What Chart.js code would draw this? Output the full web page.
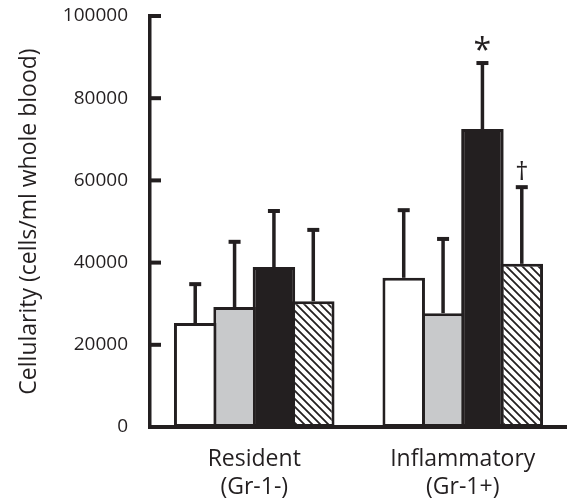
<!DOCTYPE html>
<html>
<head>
<meta charset="utf-8">
<script src="https://cdn.jsdelivr.net/npm/chart.js@4/dist/chart.umd.min.js"></script>
<style>
  html, body { margin: 0; padding: 0; background: #fff; }
  #wrap { width: 567px; height: 504px; position: relative; }
</style>
</head>
<body>
<div id="wrap"><canvas id="chart"></canvas></div>
<script>
const categories = [['Resident', '(Gr-1-)'], ['Inflammatory', '(Gr-1+)']];
const yTicks = [0, 20000, 40000, 60000, 80000, 100000];

// means and upward error (SD) per group
const whiteMeans = [25300, 36300];
const whiteErr = [9700, 16700];
const grayMeans = [29200, 27700];
const grayErr = [16100, 18300];
const blackMeans = [38900, 72500];
const blackErr = [13900, 16300];
const hatchMeans = [30600, 39700];
const hatchErr = [17600, 18900];

// significance marks: dataset index, category index, symbol
const marks = [
  { ds: 2, idx: 1, text: '*' },
  { ds: 3, idx: 1, text: '\u2020' }
];

const ink = '#231f20';
const font = '"Open Sans", "DejaVu Sans", sans-serif';

function hatchPattern() {
  const s = 8;
  const c = document.createElement('canvas');
  c.width = s; c.height = s;
  const g = c.getContext('2d');
  g.fillStyle = '#fff';
  g.fillRect(0, 0, s, s);
  g.strokeStyle = ink;
  g.lineWidth = 1.8;
  g.beginPath();
  g.moveTo(-1, -1); g.lineTo(s + 1, s + 1);
  g.moveTo(-1, s - 1); g.lineTo(1, s + 1);
  g.moveTo(s - 1, -1); g.lineTo(s + 1, 1);
  g.stroke();
  return g.createPattern(c, 'repeat');
}

const errors = [whiteErr, grayErr, blackErr, hatchErr];

const errorBars = {
  id: 'errorBars',
  afterDatasetsDraw(chart) {
    const ctx = chart.ctx;
    const y = chart.scales.y;
    ctx.save();
    ctx.strokeStyle = ink;
    chart.data.datasets.forEach((ds, i) => {
      const meta = chart.getDatasetMeta(i);
      meta.data.forEach((bar, j) => {
        const top = y.getPixelForValue(ds.data[j] + errors[i][j]);
        ctx.lineWidth = 3.5;
        ctx.beginPath();
        ctx.moveTo(bar.x, bar.y);
        ctx.lineTo(bar.x, top);
        ctx.stroke();
        ctx.lineWidth = 4;
        ctx.beginPath();
        ctx.moveTo(bar.x - 6, top + 1);
        ctx.lineTo(bar.x + 6, top + 1);
        ctx.stroke();
      });
    });
    // significance symbols
    ctx.fillStyle = ink;
    ctx.textAlign = 'center';
    ctx.textBaseline = 'bottom';
    marks.forEach(m => {
      const bar = chart.getDatasetMeta(m.ds).data[m.idx];
      const ds = chart.data.datasets[m.ds];
      const top = y.getPixelForValue(ds.data[m.idx] + errors[m.ds][m.idx]);
      if (m.text === '*') {
        ctx.font = '32px ' + font;
        ctx.fillText(m.text, bar.x, top + 6);
      } else {
        ctx.font = '26px ' + font;
        ctx.fillText(m.text, bar.x, top - 1);
      }
    });
    // inward y ticks
    ctx.lineWidth = 4;
    yTicks.forEach(v => {
      if (v === 0) return;
      const py = y.getPixelForValue(v);
      ctx.beginPath();
      ctx.moveTo(y.right, py);
      ctx.lineTo(y.right + 11, py);
      ctx.stroke();
    });
    ctx.restore();
  }
};

const common = { borderColor: ink, borderWidth: 3, borderSkipped: false };

new Chart(document.getElementById('chart'), {
  type: 'bar',
  data: {
    labels: categories,
    datasets: [
      { label: 'white', data: whiteMeans, backgroundColor: '#ffffff', ...common },
      { label: 'gray', data: grayMeans, backgroundColor: '#c8c9cb', ...common },
      { label: 'black', data: blackMeans, backgroundColor: ink, ...common },
      { label: 'hatched', data: hatchMeans, backgroundColor: hatchPattern(), ...common }
    ]
  },
  options: {
    responsive: true,
    maintainAspectRatio: false,
    animation: false,
    layout: { padding: { top: 16, right: 0, left: 0, bottom: 0 } },
    plugins: { legend: { display: false }, tooltip: { enabled: false } },
    datasets: { bar: { categoryPercentage: 0.755, barPercentage: 1.08 } },
    scales: {
      x: {
        grid: { display: false, drawTicks: false },
        border: { color: ink, width: 4 },
        ticks: { color: ink, font: { family: font, size: 23 }, padding: 19, maxRotation: 0 },
        afterFit(scale) { scale.height = 77; }
      },
      y: {
        min: 0,
        max: 100000,
        afterBuildTicks(scale) { scale.ticks = yTicks.map(v => ({ value: v })); },
        grid: { display: false, drawTicks: false },
        border: { color: ink, width: 3.5 },
        ticks: {
          color: ink,
          font: { family: font, size: 19 },
          padding: 22,
          callback: v => String(v)
        },
        title: {
          display: true,
          text: 'Cellularity (cells/ml whole blood)',
          color: ink,
          font: { family: font, size: 23 },
          padding: { top: 16, bottom: 0 }
        },
        afterFit(scale) {
          scale.width = 150;
          scale.paddingTop = 0;
          scale.paddingBottom = 0;
        }
      }
    }
  },
  plugins: [errorBars]
});
</script>
</body>
</html>
